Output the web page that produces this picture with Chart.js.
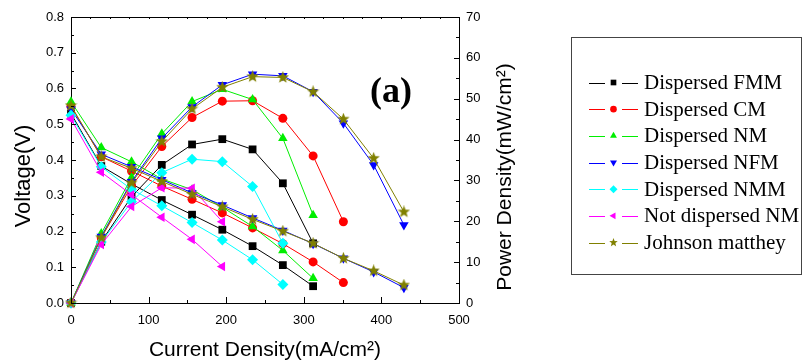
<!DOCTYPE html>
<html><head><meta charset="utf-8">
<script src="https://cdn.jsdelivr.net/npm/chart.js@4.4.0/dist/chart.umd.min.js"></script>
<style>html,body{margin:0;padding:0;background:#fff;}canvas{display:block}</style>
</head><body>
<canvas id="c" width="804" height="364"></canvas>
<script>
// ---- data ----
const current = [0, 39, 78, 117, 156, 195, 234, 273, 312, 351, 390, 429]; // mA/cm2
const seriesNames = ["Dispersed FMM", "Dispersed CM", "Dispersed NM", "Dispersed NFM", "Dispersed NMM", "Not dispersed NM", "Johnson matthey"];
const voltFMM  = [0.530, 0.383, 0.333, 0.288, 0.247, 0.205, 0.159, 0.106, 0.047];
const powerFMM = [0, 15.0, 26.0, 33.8, 38.8, 40.1, 37.6, 29.3, 14.6];
const voltCM   = [0.550, 0.409, 0.369, 0.327, 0.290, 0.252, 0.210, 0.166, 0.115, 0.057];
const powerCM  = [0, 16.0, 28.6, 38.3, 45.4, 49.4, 49.5, 45.2, 36.0, 19.9];
const voltNM   = [0.563, 0.435, 0.395, 0.347, 0.317, 0.268, 0.214, 0.147, 0.069];
const powerNM  = [0, 17.0, 30.7, 41.4, 49.3, 52.3, 49.8, 40.3, 21.5];
const voltNFM  = [0.542, 0.416, 0.381, 0.345, 0.308, 0.274, 0.238, 0.203, 0.166, 0.125, 0.087, 0.043];
const powerNFM = [0, 16.3, 29.7, 40.3, 48.0, 53.4, 56.0, 55.6, 51.7, 44.0, 33.8, 19.1];
const voltNMM  = [0.525, 0.381, 0.318, 0.272, 0.225, 0.176, 0.121, 0.052];
const powerNMM = [0, 14.9, 24.8, 31.9, 35.2, 34.6, 28.5, 14.6];
const voltNDNM  = [0.515, 0.366, 0.303, 0.240, 0.178, 0.102];
const powerNDNM = [0, 14.3, 23.6, 28.2, 28.1, 19.9];
const voltJM   = [0.552, 0.409, 0.377, 0.340, 0.304, 0.269, 0.234, 0.201, 0.167, 0.125, 0.090, 0.050];
const powerJM  = [0, 16.0, 29.4, 39.5, 47.5, 52.8, 55.4, 55.2, 51.7, 45.0, 35.4, 22.3];
const voltTicks = [0, 0.1, 0.2, 0.3, 0.4, 0.5, 0.6, 0.7, 0.8];
const powerTicks = [0, 10, 20, 30, 40, 50, 60, 70];
const currentTicks = [0, 100, 200, 300, 400, 500];

// ---- styles ----
const colors = ["#000000", "#ff0000", "#00ee00", "#0000ff", "#00ffff", "#ff00ff", "#808000"];
function makeStar(size, color) {
  const c = document.createElement('canvas');
  c.width = size; c.height = size;
  const g = c.getContext('2d');
  const cx = size / 2, cy = size / 2, ro = size / 2, ri = ro * 0.42;
  g.beginPath();
  for (let i = 0; i < 10; i++) {
    const r = i % 2 ? ri : ro;
    const a = -Math.PI / 2 + i * Math.PI / 5;
    g.lineTo(cx + r * Math.cos(a), cy + r * Math.sin(a));
  }
  g.closePath();
  g.fillStyle = color; g.fill();
  return c;
}
const starBig = makeStar(13, "#808000");
const starSmall = makeStar(9, "#808000");
const markers = [
  {style: 'rect', rot: 0, r: 5.5},
  {style: 'circle', rot: 0, r: 4.5},
  {style: 'triangle', rot: 0, r: 5.5},
  {style: 'triangle', rot: 180, r: 5.5},
  {style: 'rectRot', rot: 0, r: 5.5},
  {style: 'triangle', rot: -90, r: 5.5},
  {style: starBig, rot: 0, r: 6}
];
const legendMarkers = [
  {style: 'rect', rot: 0, r: 4},
  {style: 'circle', rot: 0, r: 3.3},
  {style: 'triangle', rot: 0, r: 4},
  {style: 'triangle', rot: 180, r: 4},
  {style: 'rectRot', rot: 0, r: 4},
  {style: 'triangle', rot: -90, r: 4},
  {style: starSmall, rot: 0, r: 4}
];

const voltSeries = [voltFMM, voltCM, voltNM, voltNFM, voltNMM, voltNDNM, voltJM];
const powerSeries = [powerFMM, powerCM, powerNM, powerNFM, powerNMM, powerNDNM, powerJM];
const toXY = arr => arr.map((v, i) => ({x: current[i], y: v}));

const datasets = [];
seriesNames.forEach((name, i) => {
  const common = {
    borderColor: colors[i], backgroundColor: colors[i], borderWidth: 1,
    pointStyle: markers[i].style, pointRotation: markers[i].rot, pointRadius: markers[i].r,
    pointBorderWidth: 0, pointBackgroundColor: colors[i], pointBorderColor: colors[i],
    tension: 0, fill: false, order: 6 - i, clip: 6
  };
  datasets.push(Object.assign({label: name, data: toXY(voltSeries[i]), yAxisID: 'y'}, common));
  datasets.push(Object.assign({label: name + " (power)", data: toXY(powerSeries[i]), yAxisID: 'y2'}, common));
});

const tickFont = {family: "'Liberation Sans', Arial, sans-serif", size: 13};

const framePlugin = {
  id: 'frame',
  afterDraw(chart) {
    const ctx = chart.ctx;
    const a = chart.chartArea;
    const sx = chart.scales.x, sy = chart.scales.y, sy2 = chart.scales.y2;
    ctx.save();
    ctx.strokeStyle = '#000'; ctx.lineWidth = 1;
    // top border
    ctx.beginPath(); ctx.moveTo(a.left, a.top + 0.5); ctx.lineTo(a.right, a.top + 0.5); ctx.stroke();
    ctx.beginPath();
    // bottom ticks (inward)
    for (let v = 0; v <= 500; v += 50) {
      const px = Math.round(sx.getPixelForValue(v)) + 0.5;
      const len = v % 100 === 0 ? 6 : 3;
      ctx.moveTo(px, a.bottom); ctx.lineTo(px, a.bottom - len);
    }
    // top ticks
    for (let v = 0; v <= 500; v += 25) {
      const px = Math.round(sx.getPixelForValue(v)) + 0.5;
      ctx.moveTo(px, a.top); ctx.lineTo(px, a.top + 2);
    }
    // left ticks
    for (let k = 0; k <= 16; k++) {
      const v = k * 0.05;
      const py = Math.round(sy.getPixelForValue(v)) + 0.5;
      const len = k % 2 === 0 ? 5 : 3;
      ctx.moveTo(a.left, py); ctx.lineTo(a.left + len, py);
    }
    // right ticks
    for (let v = 0; v <= 70; v += 5) {
      const py = Math.round(sy2.getPixelForValue(v)) + 0.5;
      const len = v % 10 === 0 ? 5 : 3;
      ctx.moveTo(a.right, py); ctx.lineTo(a.right - len, py);
    }
    ctx.stroke();

    // axis titles
    ctx.fillStyle = '#000';
    ctx.textAlign = 'center'; ctx.textBaseline = 'middle';
    ctx.font = "21px 'Liberation Sans', Arial, sans-serif";
    ctx.fillText("Current Density(mA/cm²)", (a.left + a.right) / 2, 350);
    ctx.save();
    ctx.translate(24, 176); ctx.rotate(-Math.PI / 2);
    ctx.font = "22px 'Liberation Sans', Arial, sans-serif";
    ctx.fillText("Voltage(V)", 0, 0);
    ctx.restore();
    ctx.save();
    ctx.translate(505, 177); ctx.rotate(-Math.PI / 2);
    ctx.fillText("Power Density(mW/cm²)", 0, 0);
    ctx.restore();

    // panel label
    ctx.font = "bold 36px 'Liberation Serif', 'Times New Roman', serif";
    ctx.fillText("(a)", 391, 93);

    // legend box
    ctx.strokeStyle = '#444'; ctx.lineWidth = 1;
    ctx.strokeRect(571.5, 37.5, 230, 237);
    ctx.font = "21px 'Liberation Serif', 'Times New Roman', serif";
    ctx.textAlign = 'left';
    seriesNames.forEach((name, i) => {
      const y = 82.5 + i * 26.67;
      const yl = Math.round(y) + 0.5;
      ctx.strokeStyle = colors[i]; ctx.fillStyle = colors[i];
      ctx.beginPath();
      ctx.moveTo(589, yl); ctx.lineTo(605, yl);
      ctx.moveTo(622, yl); ctx.lineTo(638, yl);
      ctx.stroke();
      Chart.helpers.drawPoint(ctx, {pointStyle: legendMarkers[i].style, rotation: legendMarkers[i].rot, radius: legendMarkers[i].r, borderWidth: 0}, 613.5, y);
      ctx.fillStyle = '#000';
      ctx.fillText(name, 644, y + 1);
    });
    ctx.restore();
  }
};

new Chart(document.getElementById('c'), {
  type: 'line',
  data: {datasets},
  options: {
    responsive: false, animation: false, devicePixelRatio: 1,
    layout: {padding: {top: 17, right: 284, bottom: 0, left: 0}},
    plugins: {legend: {display: false}, tooltip: {enabled: false}},
    scales: {
      x: {
        type: 'linear', position: 'bottom', min: 0, max: 500,
        afterBuildTicks: s => { s.ticks = currentTicks.map(v => ({value: v})); },
        ticks: {font: tickFont, color: '#000', padding: 10, maxRotation: 0, autoSkip: false},
        grid: {display: false, drawTicks: false},
        border: {display: true, color: '#000', width: 1},
        afterFit: s => { s.height = 61; }
      },
      y: {
        type: 'linear', position: 'left', min: 0, max: 0.8,
        afterBuildTicks: s => { s.ticks = voltTicks.map(v => ({value: v})); },
        ticks: {font: tickFont, color: '#000', padding: 7, callback: v => v.toFixed(1), autoSkip: false},
        grid: {display: false, drawTicks: false},
        border: {display: true, color: '#000', width: 1},
        afterFit: s => { s.width = 71; }
      },
      y2: {
        type: 'linear', position: 'right', min: 0, max: 70,
        afterBuildTicks: s => { s.ticks = powerTicks.map(v => ({value: v})); },
        ticks: {font: tickFont, color: '#000', padding: 7, autoSkip: false},
        grid: {display: false, drawTicks: false},
        border: {display: true, color: '#000', width: 1},
        afterFit: s => { s.width = 61; }
      }
    }
  },
  plugins: [framePlugin]
});
</script>
</body></html>
